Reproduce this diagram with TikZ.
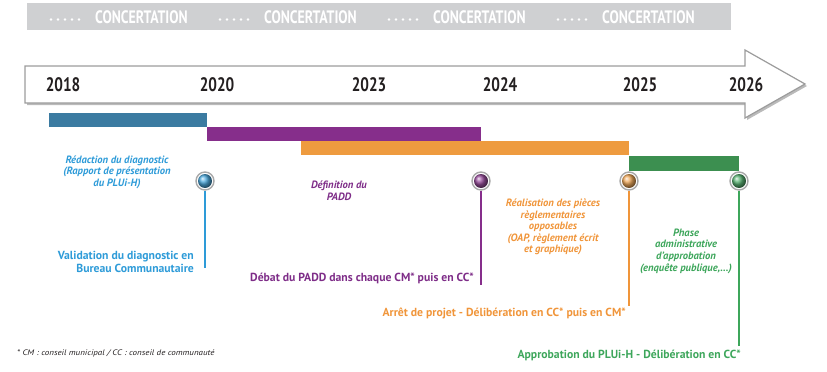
\documentclass[tikz,border=0pt]{standalone}
\usepackage{fontspec}
\usepackage{graphicx}
\setmainfont{PT Sans}
\definecolor{bandgray}{HTML}{CFD0D2}
\definecolor{arrowgray}{HTML}{9C9C9C}
\definecolor{ringgray}{HTML}{A8A8A8}
\definecolor{yeartxt}{HTML}{231F20}
\definecolor{bluebar}{HTML}{3B7BA1}
\definecolor{bluetxt}{HTML}{2E9BD8}
\definecolor{purplebar}{HTML}{862E8B}
\definecolor{purpletxt}{HTML}{7E2D88}
\definecolor{orangebar}{HTML}{EE9B3F}
\definecolor{orangetxt}{HTML}{F0953A}
\definecolor{greenbar}{HTML}{3C8F50}
\definecolor{greentxt}{HTML}{3DA65B}
\begin{document}
\begin{tikzpicture}[x=1pt,y=-1pt,
  year/.style={font=\fontsize{19.5}{19.5}\selectfont\bfseries, text=yeartxt, inner sep=0pt},
  conc/.style={font=\fontsize{18}{18}\selectfont\bfseries, text=white, inner sep=0pt},
  stem/.style={line width=2.3pt},
  ring/.style={circle, draw=ringgray, line width=1.4pt, fill=white, minimum size=18pt, inner sep=0pt},
  ital/.style={font=\fontsize{10.6}{11.6}\selectfont\bfseries\itshape, align=center, inner sep=0pt},
  milestone/.style={font=\fontsize{11.7}{12.2}\selectfont\bfseries, align=right, inner sep=0pt},
]
\useasboundingbox (0,0) rectangle (827,372);
% concertation band
\fill[bandgray] (27,3) rectangle (731,30);
\foreach \x/\n in {51/c1,220/c2,389/c3,558/c4}{
  \foreach \k in {0,...,4}{ \fill[white] (\x+\k*7,19.5) circle (1.3pt); }
  \node[conc, anchor=west] (\n) at (\x+44,17) {\scalebox{0.77}[1]{CONCERTATION}};
}
% timeline arrow
\path[fill=arrowgray!70] (27,68) -- (747,68) -- (747,52) -- (807,86) -- (747,120) -- (747,105) -- (27,105) -- cycle;
\draw[arrowgray, line width=1.2pt, fill=white, line join=miter] (25,66) -- (745,66) -- (745,50) -- (805,84) -- (745,118) -- (745,103) -- (25,103) -- cycle;
\node[year] (y2018) at (63,85) {\scalebox{0.78}[1]{2018}};
\node[year] (y2020) at (217,85) {\scalebox{0.78}[1]{2020}};
\node[year] (y2023) at (369,85) {\scalebox{0.78}[1]{2023}};
\node[year] (y2024) at (500,85) {\scalebox{0.78}[1]{2024}};
\node[year] (y2025) at (640,85) {\scalebox{0.78}[1]{2025}};
\node[year] (y2026) at (746,85) {\scalebox{0.78}[1]{2026}};
% bars
\fill[bluebar] (49,113) rectangle (207,127);
\fill[purplebar] (207,127) rectangle (481,141);
\fill[orangebar] (301,141) rectangle (629,155);
\fill[greenbar] (629,156) rectangle (739,171);
% stems and milestone dots
\coordinate (e1) at (205,268);
\coordinate (e2) at (481,285);
\coordinate (e3) at (629,306);
\coordinate (e4) at (739,346);
\node[ring] (m1) at (205,181) {};
\node[ring] (m2) at (481,181) {};
\node[ring] (m3) at (629,181) {};
\node[ring] (m4) at (739,181) {};
\draw[stem, bluetxt] (m1.south) -- (e1);
\draw[stem, purplebar] (m2.south) -- (e2);
\draw[stem, orangetxt] (m3.south) -- (e3);
\draw[stem, greentxt] (m4.south) -- (e4);
\foreach \m/\c in {m1/bluetxt,m2/purplebar,m3/orangebar,m4/greentxt}{
  \shade[ball color=\c!85!white] (\m.center) circle (7pt);
}
% phase texts
\node[ital, text=bluetxt] (t1) at (117,172) {Rédaction du diagnostic\\(Rapport de présentation\\du PLUi-H)};
\node[ital, text=purpletxt] (t2) at (339,191) {Définition du\\PADD};
\node[ital, text=orangetxt] (t3) at (553,227) {Réalisation des pièces\\règlementaires\\opposables\\(OAP, règlement écrit\\et graphique)};
\node[ital, text=greentxt] (t4) at (686,251) {Phase\\administrative\\d’approbation\\(enquête publique,...)};
% milestone texts
\node[milestone, text=bluetxt, anchor=east] (v1) at (194,262) {Validation du diagnostic en\\Bureau Communautaire};
\node[milestone, text=purpletxt, anchor=east] (v2) at (474,278) {Débat du PADD dans chaque CM* puis en CC*};
\node[milestone, text=orangetxt, anchor=east] (v3) at (626,313) {Arrêt de projet - Délibération en CC* puis en CM*};
\node[milestone, text=greentxt, anchor=east] (v4) at (741,355) {Approbation du PLUi-H - Délibération en CC*};
% footnote
\node[font=\fontsize{8}{8}\selectfont\itshape, text=yeartxt, anchor=west, inner sep=0pt] (fn) at (17,353) {\scalebox{1.12}[1]{* CM : conseil municipal / CC : conseil de communauté}};
\end{tikzpicture}
\end{document}
